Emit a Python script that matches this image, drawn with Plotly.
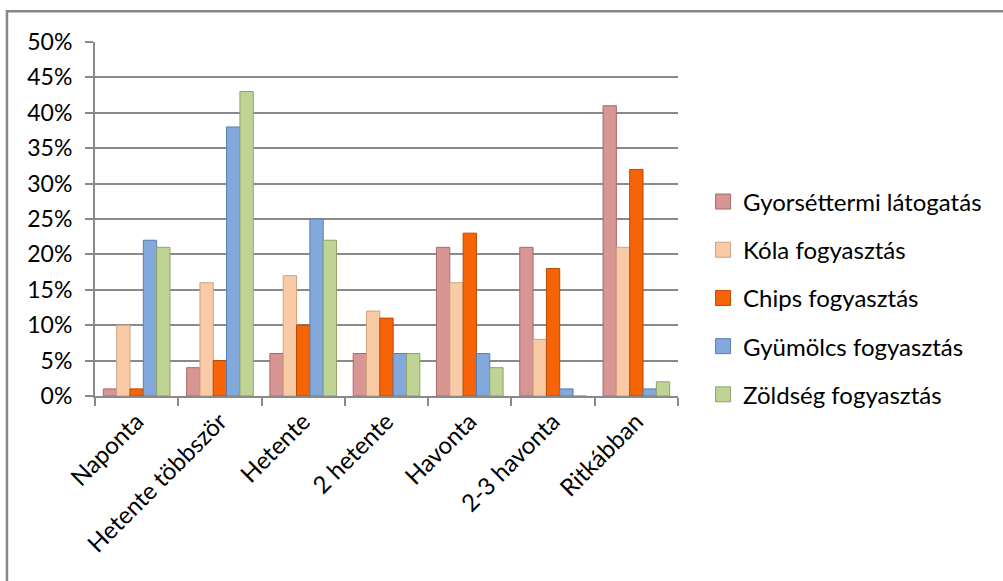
import plotly.graph_objects as go

categories = ["Naponta", "Hetente többször", "Hetente", "2 hetente",
              "Havonta", "2-3 havonta", "Ritkábban"]

series_names = ["Gyorséttermi látogatás", "Kóla fogyasztás", "Chips fogyasztás",
                "Gyümölcs fogyasztás", "Zöldség fogyasztás"]

gyorsetterem = [1, 4, 6, 6, 21, 21, 41]
kola = [10, 16, 17, 12, 16, 8, 21]
chips = [1, 5, 10, 11, 23, 18, 32]
gyumolcs = [22, 38, 25, 6, 6, 1, 1]
zoldseg = [21, 43, 22, 6, 4, 0, 2]

y_ticks = [0, 5, 10, 15, 20, 25, 30, 35, 40, 45, 50]
y_tick_labels = [f"{v}%" for v in y_ticks]

fills = ["#D79594", "#F8CBA6", "#F66407", "#83A9DC", "#BFD394"]
edges = ["#A86A69", "#CFA27E", "#B94A04", "#5A7DB0", "#8FA268"]

FONT = "Lato, 'Noto Sans', sans-serif"
GRID = "#8A8A8A"

fig = go.Figure()
all_series = [gyorsetterem, kola, chips, gyumolcs, zoldseg]
for i, (name, vals) in enumerate(zip(series_names, all_series)):
    fig.add_trace(go.Bar(
        x=categories, y=vals, name=name, legendgroup=name, showlegend=False,
        marker=dict(color=fills[i], line=dict(color=edges[i], width=1)),
    ))
# larger square swatches for the legend
for i, name in enumerate(series_names):
    fig.add_trace(go.Scatter(
        x=[categories[0]], y=[None], mode="markers", name=name, legendgroup=name,
        marker=dict(symbol="square", size=15, color=fills[i],
                    line=dict(color=edges[i], width=1)),
        hoverinfo="skip",
    ))

fig.update_layout(
    width=1003, height=581,
    margin=dict(l=95, r=325, t=42, b=185),
    paper_bgcolor="white", plot_bgcolor="white",
    barmode="group", bargap=0.2, bargroupgap=0,
    font=dict(family=FONT, size=23, color="black"),
    showlegend=True,
    legend=dict(x=1.043, y=0.277, xanchor="left", yanchor="middle",
                font=dict(family=FONT, size=24, color="black"),
                tracegroupgap=14, itemwidth=30, bgcolor="rgba(0,0,0,0)"),
    xaxis=dict(
        type="category", tickangle=-45, tickson="boundaries",
        ticks="outside", ticklen=8, tickcolor=GRID, tickwidth=1.5,
        showline=True, linecolor=GRID, linewidth=2,
        showgrid=False, tickfont=dict(family=FONT, size=24),
    ),
    yaxis=dict(
        range=[0, 50], tickvals=y_ticks, ticktext=y_tick_labels,
        ticks="outside", ticklen=8, tickcolor=GRID, tickwidth=1.5,
        showline=True, linecolor=GRID, linewidth=2,
        showgrid=True, gridcolor=GRID, gridwidth=1.5,
        zeroline=False, ticklabelstandoff=8,
        tickfont=dict(family=FONT, size=23),
    ),
    shapes=[dict(type="rect", xref="paper", yref="paper",
                 x0=-0.151, x1=1.6, y0=-0.7, y1=1.087,
                 line=dict(color="#878787", width=2.5), layer="below")],
)

fig.write_html("out.html")
